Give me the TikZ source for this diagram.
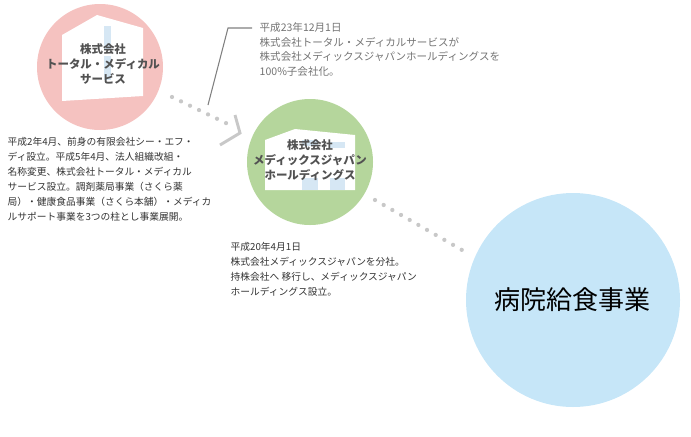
\documentclass[tikz,border=0pt]{standalone}
\usepackage{fontspec}
\setmainfont{Noto Sans CJK JP}
\usepackage{tikz}
\usetikzlibrary{positioning,calc}
\definecolor{pinkc}{HTML}{F5C2C0}
\definecolor{greenc}{HTML}{B5D69C}
\definecolor{bluec}{HTML}{C6E6F8}
\definecolor{winc}{HTML}{D6E7F4}
\definecolor{dotc}{HTML}{C8C8C8}
\definecolor{txtc}{HTML}{333333}
\begin{document}
\begin{tikzpicture}[x=0.75pt, y=-0.75pt,
    company/.style={align=center, font=\fontsize{8.6}{11.5}\selectfont\bfseries, text=txtc!85},
    note/.style={anchor=north west, align=left, font=\fontsize{7.3}{11.2}\selectfont, text=txtc},
    dots/.style={dotc, line width=3.2pt, line cap=round, dash pattern=on 0pt off 7.5pt}
]
\useasboundingbox (0,0) rectangle (691,436);

% circles
\fill[pinkc] (100,67) circle (63);
\fill[greenc] (310,162) circle (63);
\fill[bluec] (573,300) circle (107);

% houses
\fill[white] (62,35) -- (97,15) -- (143,28) -- (143,96) -- (62,101) -- cycle;
\fill[winc] (104,26) rectangle (111,50);
\fill[winc] (104,56) rectangle (111,80);
\fill[white] (265,140) -- (295,129) -- (355,135) -- (355,190) -- (265,190) -- cycle;
\fill[winc] (302,140) rectangle (318,146);
\fill[winc] (330,142) rectangle (345,148);
\fill[winc] (302,178) rectangle (318,190);
\fill[winc] (330,178) rectangle (345,190);

% company names
\node[company] (total) at (103,64) {株式会社\\トータル・メディカル\\サービス};
\node[company] (medix) at (310,160) {株式会社\\メディックスジャパン\\ホールディングス};
\node[font=\fontsize{19.5}{22}\selectfont, text=black] (food) at (572,300) {病院給食事業};

% connectors
\coordinate (p1) at (172,97);
\coordinate (p2) at (232,126);
\coordinate (g1) at (375,200);
\coordinate (g2) at (462,250);
\draw[dots] (p1) -- (p2);
\draw[dots] (g1) -- (g2);
\draw[dotc, line width=2.2pt] (235,115) -- (240,133) -- (220,145);

% notes
\coordinate (c1) at (208,105);
\coordinate (c2) at (228,28);
\coordinate (c3) at (252,28);
\draw[gray, line width=0.8pt] (c1) -- (c2) -- (c3);
\node[note, font=\fontsize{7.9}{10.9}\selectfont, text=gray!90!black] (acq) at (255,18) {平成23年12月1日\\株式会社トータル・メディカルサービスが\\株式会社メディックスジャパンホールディングスを\\100\%子会社化。};
\node[note] (hist) at (3,133) {平成2年4月、前身の有限会社シー・エフ・\\ディ設立。平成5年4月、法人組織改組・\\名称変更、株式会社トータル・メディカル\\サービス設立。調剤薬局事業（さくら薬\\局）・健康食品事業（さくら本舗）・メディカ\\ルサポート事業を3つの柱とし事業展開。};
\node[note] (split) at (226,238) {平成20年4月1日\\株式会社メディックスジャパンを分社。\\持株会社へ 移行し、メディックスジャパン\\ホールディングス設立。};
\end{tikzpicture}
\end{document}
